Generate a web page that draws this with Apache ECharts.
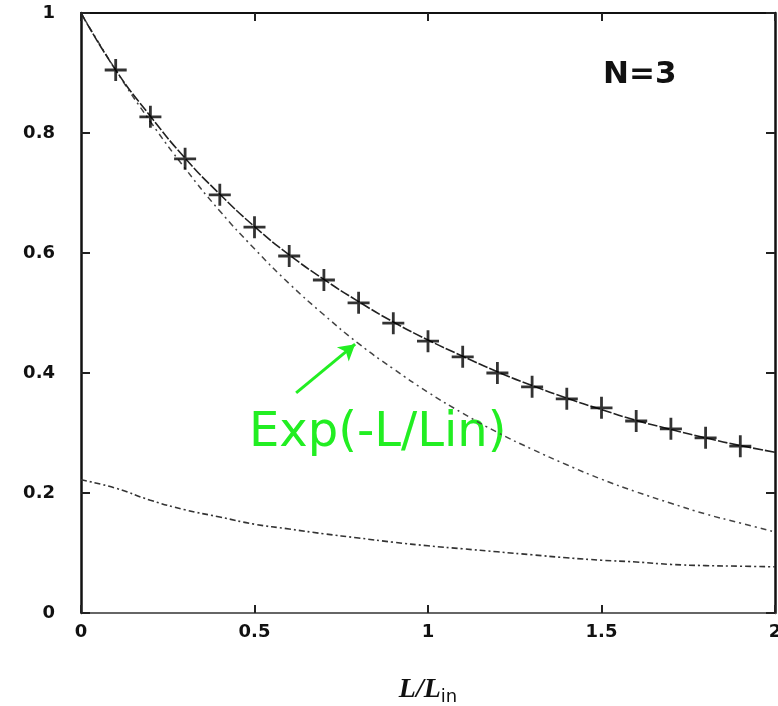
<!DOCTYPE html>
<html>
<head>
<meta charset="utf-8">
<script src="https://cdn.jsdelivr.net/npm/echarts@6/dist/echarts.min.js"></script>
<style>
  html, body { margin: 0; padding: 0; background: #fff; }
  #chart { width: 778px; height: 706px; }
</style>
</head>
<body>
<div id="chart"></div>
<script>
// L/Lin sample positions
const xFine = [0, 0.1, 0.2, 0.3, 0.4, 0.5, 0.6, 0.7, 0.8, 0.9, 1.0,
               1.1, 1.2, 1.3, 1.4, 1.5, 1.6, 1.7, 1.8, 1.9, 2.0];
const xPoints = [0.1, 0.2, 0.3, 0.4, 0.5, 0.6, 0.7, 0.8, 0.9, 1.0,
                 1.1, 1.2, 1.3, 1.4, 1.5, 1.6, 1.7, 1.8, 1.9];

// simulated values (+ markers)
const simValues = [0.905, 0.827, 0.757, 0.697, 0.643, 0.595, 0.555, 0.517, 0.483, 0.453,
                   0.427, 0.400, 0.377, 0.357, 0.342, 0.320, 0.307, 0.292, 0.278];
// fitted curve through the markers
const fitValues = [1.000, 0.905, 0.828, 0.758, 0.698, 0.644, 0.597, 0.556, 0.519, 0.485, 0.455,
                   0.428, 0.402, 0.379, 0.358, 0.339, 0.321, 0.306, 0.292, 0.279, 0.268];
// Exp(-L/Lin) reference curve
const expValues = [1.000, 0.905, 0.819, 0.741, 0.670, 0.607, 0.549, 0.497, 0.449, 0.407, 0.368,
                   0.333, 0.301, 0.273, 0.247, 0.223, 0.202, 0.183, 0.165, 0.150, 0.135];
// lower curve
const lowValues = [0.222, 0.208, 0.188, 0.172, 0.160, 0.148, 0.140, 0.132, 0.125, 0.118, 0.112,
                   0.107, 0.102, 0.097, 0.092, 0.088, 0.085, 0.081, 0.079, 0.078, 0.077];

const xTicks = [0, 0.5, 1, 1.5, 2];
const yTicks = [0, 0.2, 0.4, 0.6, 0.8, 1];

const pair = (xs, ys) => xs.map((x, i) => [x, ys[i]]);

const plusPath = 'path://M0,9.6L22,9.6L22,12.4L0,12.4Z M9.6,0L12.4,0L12.4,22L9.6,22Z';
const tickFont = { fontFamily: 'DejaVu Sans', fontWeight: 'bold', fontSize: 18, color: '#111' };

const chart = echarts.init(document.getElementById('chart'), null, { renderer: 'canvas' });

chart.setOption({
  animation: false,
  backgroundColor: '#ffffff',
  grid: { left: 81, top: 13, width: 694, height: 600, containLabel: false, outerBoundsMode: 'none' },
  xAxis: [
    {
      type: 'value', min: xTicks[0], max: xTicks[xTicks.length - 1], interval: 0.5,
      position: 'bottom',
      axisLine: { onZero: false, lineStyle: { color: '#666', width: 2 } },
      axisTick: { inside: true, length: 8, lineStyle: { color: '#222', width: 2 } },
      axisLabel: Object.assign({ margin: 10 }, tickFont),
      splitLine: { show: false },
      name: '{it|L/L}{sub|in}',
      nameLocation: 'middle',
      nameGap: 61,
      nameTextStyle: {
        rich: {
          it: { fontFamily: 'Liberation Serif', fontStyle: 'italic', fontWeight: 'bold', fontSize: 28, color: '#111' },
          sub: { fontFamily: 'DejaVu Sans', fontSize: 18, color: '#111', padding: [14, 0, 0, 0] }
        }
      }
    },
    {
      type: 'value', min: xTicks[0], max: xTicks[xTicks.length - 1], interval: 0.5,
      position: 'top',
      axisLine: { onZero: false, lineStyle: { color: '#111', width: 2 } },
      axisTick: { inside: true, length: 8, lineStyle: { color: '#222', width: 2 } },
      axisLabel: { show: false },
      splitLine: { show: false }
    }
  ],
  yAxis: [
    {
      type: 'value', min: yTicks[0], max: yTicks[yTicks.length - 1], interval: 0.2,
      position: 'left',
      axisLine: { show: true, onZero: false, lineStyle: { color: '#111', width: 2.5 } },
      axisTick: { show: true, inside: true, length: 9, lineStyle: { color: '#222', width: 2 } },
      axisLabel: Object.assign({ margin: 26 }, tickFont),
      splitLine: { show: false }
    },
    {
      type: 'value', min: yTicks[0], max: yTicks[yTicks.length - 1], interval: 0.2,
      position: 'right',
      axisLine: { show: true, onZero: false, lineStyle: { color: '#111', width: 2.5 } },
      axisTick: { show: true, inside: true, length: 9, lineStyle: { color: '#222', width: 2 } },
      axisLabel: { show: false },
      splitLine: { show: false }
    }
  ],
  series: [
    {
      name: 'low',
      type: 'line',
      data: pair(xFine, lowValues),
      smooth: true,
      symbol: 'none',
      lineStyle: { color: '#333', width: 1.6, type: [6, 3, 2, 3] }
    },
    {
      name: 'exp',
      type: 'line',
      data: pair(xFine, expValues),
      smooth: true,
      symbol: 'none',
      lineStyle: { color: '#444', width: 1.5, type: [6, 4, 2, 4] },
      markLine: {
        silent: true,
        symbol: ['none', 'arrow'],
        symbolSize: [14, 16],
        label: { show: false },
        lineStyle: { color: '#22ee22', width: 3, type: 'solid' },
        data: [[{ coord: [0.62, 0.367] }, { coord: [0.79, 0.448] }]]
      }
    },
    {
      name: 'fit',
      type: 'line',
      data: pair(xFine, fitValues),
      smooth: true,
      symbol: 'none',
      lineStyle: { color: '#222', width: 1.6, type: [10, 2] }
    },
    {
      name: 'sim',
      type: 'scatter',
      data: pair(xPoints, simValues),
      symbol: plusPath,
      symbolSize: 22,
      itemStyle: { color: '#000' },
      z: 5
    }
  ],
  graphic: [
    {
      type: 'text',
      left: 603, top: 59,
      style: { text: 'N=3', font: 'bold 31px "DejaVu Sans"', fill: '#111' }
    },
    {
      type: 'text',
      left: 249, top: 410,
      style: { text: 'Exp(-L/Lin)', font: '48px "DejaVu Sans"', fill: '#22ee22' }
    }
  ]
});
</script>
</body>
</html>
